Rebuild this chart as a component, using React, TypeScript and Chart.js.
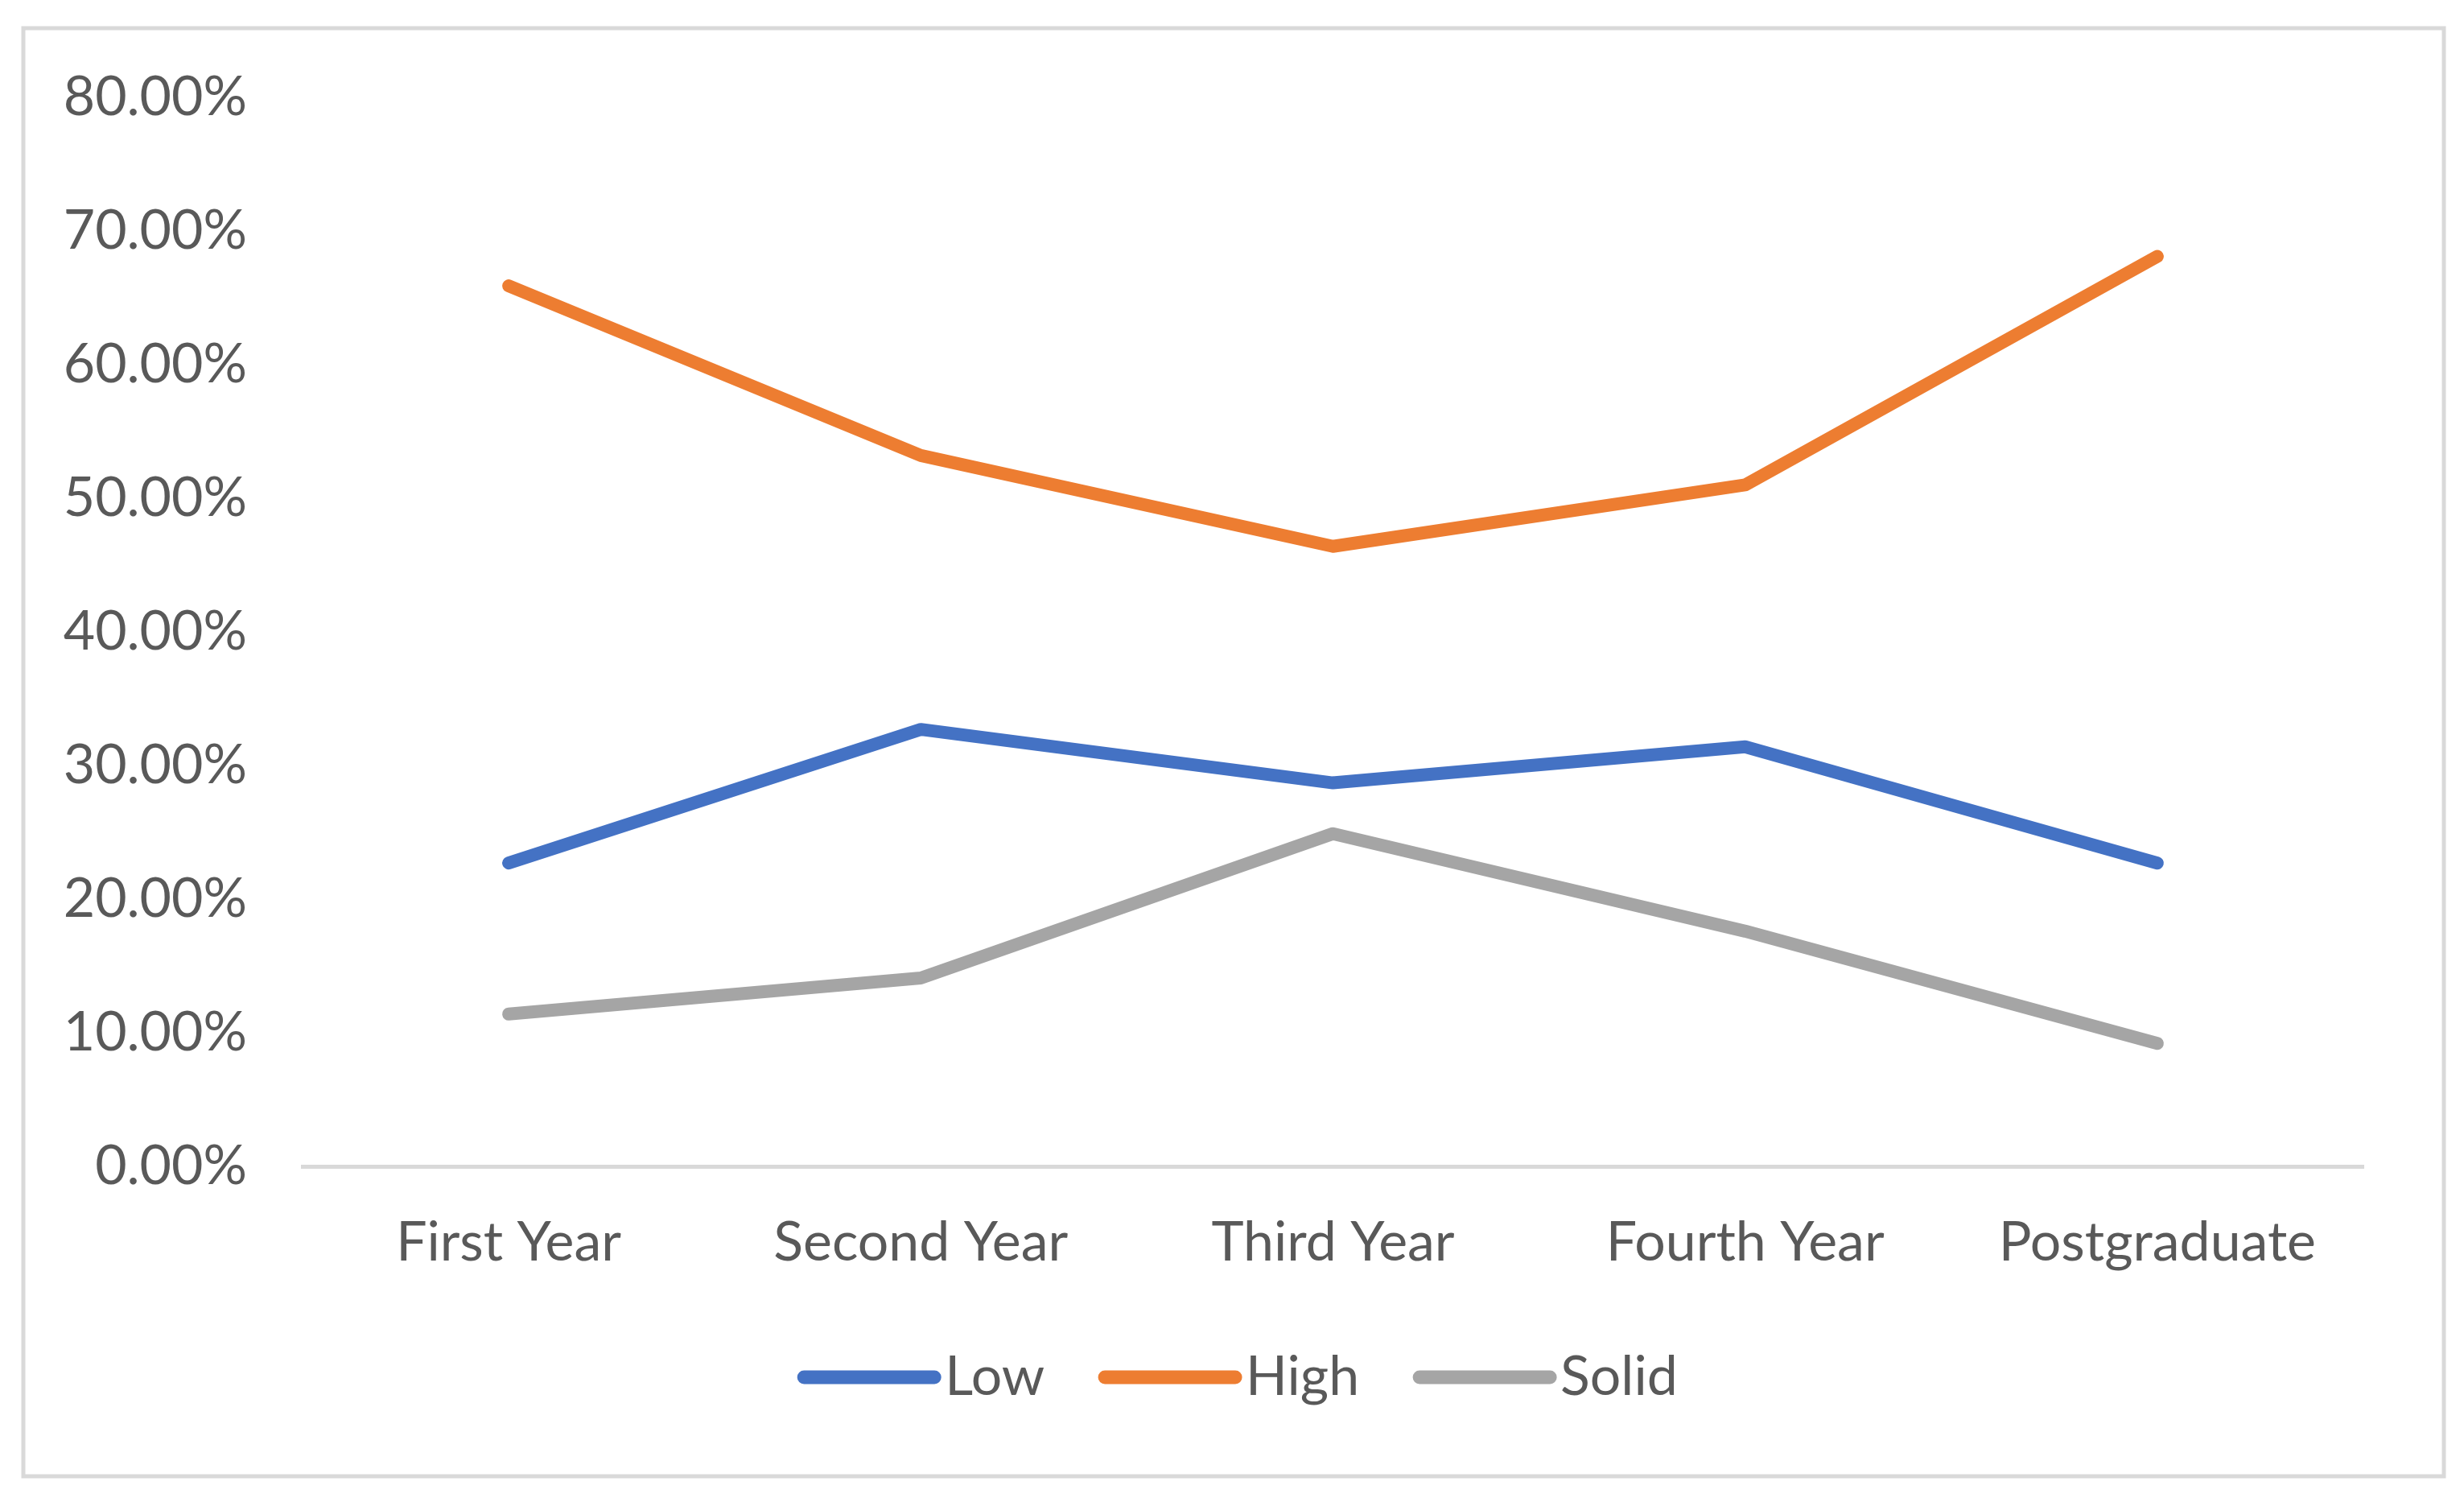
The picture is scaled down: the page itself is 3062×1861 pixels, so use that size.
import React, { useEffect, useRef } from "react";
import { Chart, registerables } from "chart.js";

Chart.register(...registerables);

const categories = ["First Year", "Second Year", "Third Year", "Fourth Year", "Postgraduate"];
const lowValues = [22.7, 32.7, 28.7, 31.4, 22.7];
const highValues = [65.9, 53.2, 46.4, 51.0, 68.1];
const solidValues = [11.4, 14.1, 24.9, 17.6, 9.2];
const seriesNames = ["Low", "High", "Solid"];
const seriesColors = ["#4472C4", "#ED7D31", "#A5A5A5"];

const FONT = "Lato, 'Open Sans', sans-serif";
const TEXT = "#595959";
const LEGEND_SHIFT = 69;

const frame = {
  id: "frame",
  afterUpdate(chart: any) {
    const legend = chart.legend;
    if (!legend) return;
    legend.left += LEGEND_SHIFT;
    legend.right += LEGEND_SHIFT;
    (legend.legendHitBoxes || []).forEach((hb: any) => {
      hb.left += LEGEND_SHIFT;
    });
  },
  beforeDraw(chart: any) {
    const { ctx, width, height } = chart;
    ctx.save();
    ctx.fillStyle = "#ffffff";
    ctx.fillRect(0, 0, width, height);
    ctx.strokeStyle = "#D9D9D9";
    ctx.lineWidth = 5;
    ctx.strokeRect(29, 35, width - 29 - 25, height - 35 - 27);
    ctx.restore();
  },
  afterDraw(chart: any) {
    const legend = chart.legend;
    if (!legend || !legend.legendHitBoxes) return;
    const { ctx } = chart;
    ctx.save();
    legend.legendHitBoxes.forEach((hb: any, i: number) => {
      const y = hb.top + hb.height / 2;
      ctx.strokeStyle = seriesColors[i];
      ctx.lineWidth = 17;
      ctx.lineCap = "round";
      ctx.beginPath();
      ctx.moveTo(hb.left + 9, y);
      ctx.lineTo(hb.left + 171, y);
      ctx.stroke();
    });
    ctx.restore();
  },
};

export default function App() {
  const ref = useRef<HTMLCanvasElement | null>(null);
  useEffect(() => {
    document.body.style.margin = "0";
    const canvas = ref.current;
    if (!canvas) return;
    const valueSets = [lowValues, highValues, solidValues];
    const chart = new Chart(canvas, {
      type: "line",
      data: {
        labels: categories,
        datasets: seriesNames.map((name, i) => ({
          label: name,
          data: valueSets[i],
          borderColor: seriesColors[i],
          backgroundColor: seriesColors[i],
          borderWidth: 16,
          pointRadius: 0,
          borderCapStyle: "round",
          borderJoinStyle: "round",
          tension: 0,
        })),
      },
      options: {
        animation: false,
        responsive: false,
        devicePixelRatio: 1,
        layout: { padding: { top: 121, right: 125, left: 0, bottom: 106 } },
        plugins: {
          tooltip: { enabled: false },
          legend: {
            position: "bottom",
            labels: {
              font: { family: FONT, size: 68 },
              color: TEXT,
              boxWidth: 150,
              boxHeight: 16,
              padding: 66,
              generateLabels: (c: any) =>
                c.data.datasets.map((ds: any, i: number) => ({
                  text: ds.label,
                  fillStyle: "rgba(0,0,0,0)",
                  strokeStyle: "rgba(0,0,0,0)",
                  lineWidth: 0,
                  fontColor: TEXT,
                  datasetIndex: i,
                  hidden: false,
                })),
            },
          },
        },
        scales: {
          x: {
            offset: true,
            grid: { display: false, drawTicks: false },
            border: { display: true, color: "#D9D9D9", width: 5 },
            ticks: {
              font: { family: FONT, size: 68 },
              color: TEXT,
              padding: 54,
            },
            afterFit: (scale: any) => {
              scale.height = 162;
            },
          },
          y: {
            min: 0,
            max: 80,
            grid: { display: false, drawTicks: false },
            border: { display: false },
            ticks: {
              stepSize: 10,
              font: { family: FONT, size: 68 },
              color: TEXT,
              padding: 69,
              callback: (v: any) => Number(v).toFixed(2) + "%",
            },
            afterFit: (scale: any) => {
              scale.width = 376;
            },
          },
        },
      },
      plugins: [frame],
    });
    return () => chart.destroy();
  }, []);
  return (
    <div style={{ width: 3062, height: 1861 }}>
      <canvas ref={ref} width={3062} height={1861} style={{ display: "block" }} />
    </div>
  );
}
